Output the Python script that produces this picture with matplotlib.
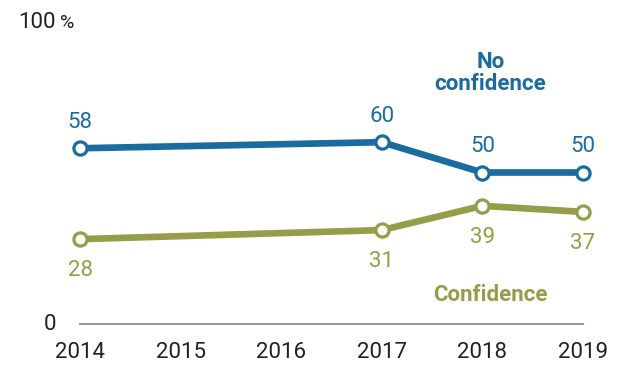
import matplotlib.pyplot as plt

years = [2014, 2017, 2018, 2019]
no_confidence = [58, 60, 50, 50]
confidence = [28, 31, 39, 37]
tick_years = [2014, 2015, 2016, 2017, 2018, 2019]

blue = "#1b6c9e"
olive = "#959d48"
font = ["Roboto", "DejaVu Sans"]
plt.rcParams["font.family"] = font

W, H = 626, 367
fig = plt.figure(figsize=(W / 100, H / 100), dpi=100)
ax = fig.add_axes([80 / W, (H - 324) / H, 503 / W, 303 / H])
ax.set_xlim(2014, 2019)
ax.set_ylim(0, 100)
for s in ax.spines.values():
    s.set_visible(False)
ax.set_yticks([])
ax.set_xticks(tick_years)
ax.set_xticklabels([str(y) for y in tick_years], fontsize=16, color="#222222")
ax.tick_params(axis="x", length=0, pad=13)
ax.axhline(0, color="#9a9a9a", lw=1.5, clip_on=False)

for vals, col in [(no_confidence, blue), (confidence, olive)]:
    ax.plot(years, vals, color=col, lw=4.8, marker="o", ms=9.5,
            mfc="white", mec=col, mew=2.3, clip_on=False, zorder=3,
            solid_joinstyle="miter")

for x, v in zip(years, no_confidence):
    ax.annotate(str(v), (x, v), xytext=(0, 11), textcoords="offset points",
                ha="center", va="bottom", fontsize=16, color=blue)
for x, v in zip(years, confidence):
    ax.annotate(str(v), (x, v), xytext=(0, -15), textcoords="offset points",
                ha="center", va="top", fontsize=16, color=olive)

ax.text(2018.08, 83, "No\nconfidence", ha="center", va="center",
        fontsize=16, fontweight="bold", color=blue, linespacing=1.0)
ax.text(2018.08, 9.5, "Confidence", ha="center", va="center",
        fontsize=16, fontweight="bold", color=olive)

fig.text(18 / W, (H - 28) / H, "100", fontsize=16, ha="left",
         va="baseline", color="#222222")
fig.text(60 / W, (H - 28) / H, "%", fontsize=14, ha="left",
         va="baseline", color="#222222")
ax.text(-0.047, 0, "0", transform=ax.get_yaxis_transform(), fontsize=16,
        ha="right", va="center", color="#222222")

fig.savefig("out.png", dpi=100)
